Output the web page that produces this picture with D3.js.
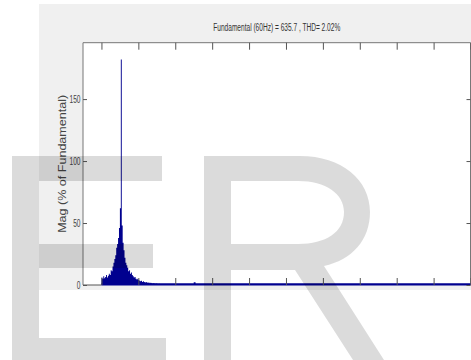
<!DOCTYPE html>
<html>
<head>
<meta charset="utf-8">
<script src="https://cdn.jsdelivr.net/npm/d3@7"></script>
<style>
  html, body { margin: 0; padding: 0; background: #fff; }
  svg { display: block; }
</style>
</head>
<body>
<div id="rootDiv"></div>
<script>
const width = 471
const height = 360

// spectrum magnitude (% of fundamental), one value per 2.5 Hz bin starting at 0 Hz
const binHz = 2.5
const spectrumMag = [
    6, 5, 7, 5.5, 6.5, 8, 6, 7.5, 9, 8,
    12, 11, 15, 18, 21, 24, 30, 33, 38, 46,
    62, 182, 48, 34, 28, 22, 18, 16, 14, 11,
    12, 9, 10, 8, 7, 6, 6.5, 5, 4.5, 5,
    4, 3.5, 3, 3.5, 2.5, 3, 2.5, 2, 2.5, 2,
    1.8, 2, 1.5, 1.8, 1.5, 1.2, 1.5, 1.2, 1, 1.2,
    1, 0.8, 1, 0.6, 0.5, 0.4, 0.3, 0.3, 0.2, 0.2
]
// isolated small component further up
const blipFreqs = [250]
const blipMags = [2.2]

const xTicks = [0, 100, 200, 300, 400, 500, 600, 700, 800, 900, 1000]
const yTicks = [0, 50, 100, 150]
const titleText = "Fundamental (60Hz) = 635.7 , THD= 2.02%"
const yLabel = "Mag (% of Fundamental)"

const svg = d3.select("#rootDiv").append("svg")
    .attr("width", width)
    .attr("height", height)

// figure background
svg.append("rect")
    .attr("x", 39).attr("y", 4)
    .attr("width", width - 39).attr("height", 286)
    .attr("fill", "#f0f0f0")

const plot = { left: 83, top: 42.7, right: 470.5, bottom: 285 }

svg.append("rect")
    .attr("x", plot.left).attr("y", plot.top)
    .attr("width", plot.right - plot.left).attr("height", plot.bottom - plot.top)
    .attr("fill", "#fff")

const x = d3.scaleLinear().domain([-50, 1000]).range([plot.left, plot.right])
const y = d3.scaleLinear().domain([0, 195.5]).range([plot.bottom, plot.top])

const spectrum = spectrumMag.map((m, i) => ({ f: i * binHz, m }))

const area = d3.area()
    .x(d => x(d.f))
    .y0(y(0))
    .y1(d => y(d.m))
    .curve(d3.curveStepAfter)

svg.append("path")
    .datum(spectrum.concat([{ f: spectrum.length * binHz, m: 0 }]))
    .attr("d", area)
    .attr("fill", "#00008f")

svg.selectAll(".blip")
    .data(blipFreqs)
    .enter()
    .append("rect")
    .attr("class", "blip")
    .attr("x", d => x(d))
    .attr("width", x(binHz * 2) - x(0))
    .attr("y", (d, i) => y(blipMags[i]))
    .attr("height", (d, i) => y(0) - y(blipMags[i]))
    .attr("fill", "#00008f")

// box
svg.append("path")
    .attr("d", `M${plot.left},${plot.bottom}V${plot.top}H${plot.right}V${plot.bottom}`)
    .attr("fill", "none")
    .attr("stroke", "#777")
    .attr("stroke-width", 1)
svg.append("line")
    .attr("x1", plot.left).attr("x2", x(0))
    .attr("y1", plot.bottom).attr("y2", plot.bottom)
    .attr("stroke", "#555")

// thick baseline of the bars
svg.append("line")
    .attr("x1", x(0)).attr("x2", plot.right)
    .attr("y1", y(0) - 0.6).attr("y2", y(0) - 0.6)
    .attr("stroke", "#00008f")
    .attr("stroke-width", 2.4)

function styleAxis(g) {
    g.select(".domain").remove()
    g.selectAll(".tick line").attr("stroke", "#555")
}

svg.append("g")
    .attr("transform", `translate(0,${plot.top})`)
    .call(d3.axisTop(x).tickValues(xTicks).tickSizeInner(-7).tickSizeOuter(0).tickFormat(""))
    .call(styleAxis)

svg.append("g")
    .attr("transform", `translate(0,${plot.bottom})`)
    .call(d3.axisBottom(x).tickValues(xTicks).tickSizeInner(-7).tickSizeOuter(0).tickFormat(""))
    .call(styleAxis)

svg.append("g")
    .attr("transform", `translate(${plot.right},0)`)
    .call(d3.axisRight(y).tickValues(yTicks).tickSizeInner(-4).tickSizeOuter(0).tickFormat(""))
    .call(styleAxis)

const sx = 0.6
svg.append("g")
    .attr("transform", `translate(${plot.left},0)`)
    .call(d3.axisLeft(y).tickValues(yTicks).tickSizeInner(-4).tickSizeOuter(0).tickPadding(3))
    .call(styleAxis)
    .call(g => g.selectAll(".tick text")
        .attr("x", -2.5 / sx)
        .attr("transform", `scale(${sx},1)`)
        .attr("fill", "#444")
        .attr("font-size", 11)
        .attr("font-family", "Liberation Sans, Arial, sans-serif"))

svg.append("text")
    .attr("x", (plot.left + plot.right) / 2)
    .attr("y", 30.5)
    .attr("text-anchor", "middle")
    .attr("font-family", "Liberation Sans, Arial, sans-serif")
    .attr("font-size", 10)
    .attr("fill", "#333")
    .attr("textLength", 127)
    .attr("lengthAdjust", "spacingAndGlyphs")
    .text(titleText)

svg.append("text")
    .attr("transform", `translate(66,${(plot.top + plot.bottom) / 2}) rotate(-90)`)
    .attr("text-anchor", "middle")
    .attr("font-family", "Liberation Sans, Arial, sans-serif")
    .attr("font-size", 10)
    .attr("fill", "#444")
    .attr("textLength", 138)
    .attr("lengthAdjust", "spacingAndGlyphs")
    .text(yLabel)

// "ER" watermark laid over the page
const mark = svg.append("g").attr("fill", "#000").attr("fill-opacity", 0.14)
mark.append("path")
    .attr("d", "M12,156H162V181H39V244H153V268H39V338H166V360H12Z")
mark.append("path")
    .attr("fill-rule", "evenodd")
    .attr("d", "M204,156H300C342,156 370,180 370,212C370,240 352,260 324,266L384,360H353L295,270H231V360H204Z" +
        "M231,181H298C326,181 344,194 344,212C344,232 326,244 298,244H231Z")
</script>
</body>
</html>
